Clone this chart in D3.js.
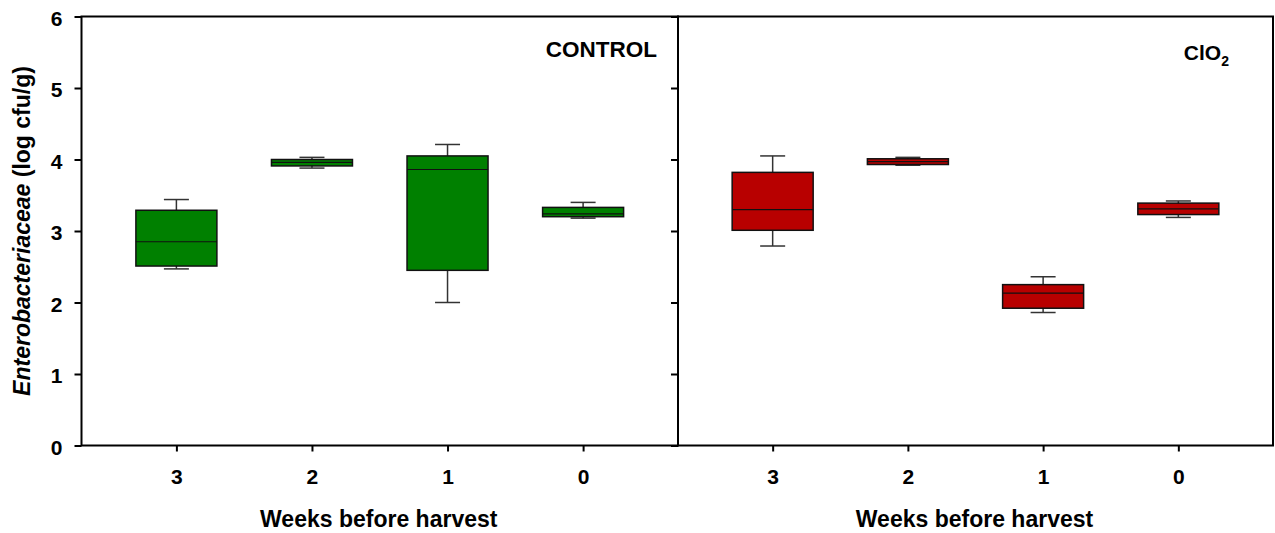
<!DOCTYPE html>
<html>
<head>
<meta charset="utf-8">
<script src="https://cdn.jsdelivr.net/npm/d3@7"></script>
<style>
  body { margin: 0; background: #fff; }
  text { font-family: Arial, "Liberation Sans", sans-serif; font-weight: bold; }
</style>
</head>
<body>
<svg id="chart" width="1275" height="533"></svg>
<script>
// weeks before harvest
var weeks = ["3", "2", "1", "0"];
var yTicks = [0, 1, 2, 3, 4, 5, 6];

// box stats: [whiskerLow, q1, median, q3, whiskerHigh]
var controlBoxes = [
  [2.47, 2.51, 2.85, 3.29, 3.44],
  [3.88, 3.91, 3.96, 4.00, 4.03],
  [2.00, 2.45, 3.86, 4.05, 4.21],
  [3.18, 3.20, 3.24, 3.33, 3.40]
];
var clo2Boxes = [
  [2.79, 3.01, 3.30, 3.82, 4.05],
  [3.92, 3.93, 3.97, 4.01, 4.03],
  [1.86, 1.92, 2.13, 2.25, 2.36],
  [3.19, 3.23, 3.31, 3.39, 3.42]
];

var svg = d3.select("#chart");
var plotTop = 16.5, plotBottom = 445.5;

var y = d3.scaleLinear().domain([0, 6]).range([plotBottom, plotTop]);

var panels = [
  {x0: 81.5, x1: 678, data: controlBoxes, fill: "#008000", label: "CONTROL", yLabels: true},
  {x0: 678, x1: 1273, data: clo2Boxes, fill: "#b80000", label: "ClO", yLabels: false}
];

panels.forEach(function(p, pi){
  var g = svg.append("g");
  var x = d3.scalePoint().domain(weeks).range([p.x0, p.x1]).padding(0.7);

  // boxes
  var boxW = 81, capW = 25;
  var bx = g.selectAll(".box").data(p.data).enter().append("g");
  bx.append("line")
    .attr("x1", function(d, i){ return x(weeks[i]); })
    .attr("x2", function(d, i){ return x(weeks[i]); })
    .attr("y1", function(d){ return y(d[0]); })
    .attr("y2", function(d){ return y(d[4]); })
    .attr("stroke", "#333").attr("stroke-width", 1.5);
  [0, 4].forEach(function(k){
    bx.append("line")
      .attr("x1", function(d, i){ return x(weeks[i]) - capW/2; })
      .attr("x2", function(d, i){ return x(weeks[i]) + capW/2; })
      .attr("y1", function(d){ return y(d[k]); })
      .attr("y2", function(d){ return y(d[k]); })
      .attr("stroke", "#333").attr("stroke-width", 1.5);
  });
  bx.append("rect")
    .attr("x", function(d, i){ return x(weeks[i]) - boxW/2; })
    .attr("y", function(d){ return y(d[3]); })
    .attr("width", boxW)
    .attr("height", function(d){ return y(d[1]) - y(d[3]); })
    .attr("fill", p.fill)
    .attr("stroke", "#111").attr("stroke-width", 1.5);
  bx.append("line")
    .attr("x1", function(d, i){ return x(weeks[i]) - boxW/2; })
    .attr("x2", function(d, i){ return x(weeks[i]) + boxW/2; })
    .attr("y1", function(d){ return y(d[2]); })
    .attr("y2", function(d){ return y(d[2]); })
    .attr("stroke", "#111").attr("stroke-width", 1.2);

  // frame
  g.append("rect")
    .attr("x", p.x0).attr("y", plotTop)
    .attr("width", p.x1 - p.x0).attr("height", plotBottom - plotTop)
    .attr("fill", "none").attr("stroke", "#000").attr("stroke-width", 2);

  // x axis
  var xa = g.append("g").attr("transform", "translate(0," + plotBottom + ")")
    .call(d3.axisBottom(x).tickSize(6).tickPadding(18));
  xa.select(".domain").remove();
  xa.selectAll("line").attr("stroke", "#000").attr("stroke-width", 2);
  xa.selectAll("text").attr("font-size", 21).attr("fill", "#000")
    .attr("font-family", "Arial, 'Liberation Sans', sans-serif");

  // y axis
  var ya = g.append("g").attr("transform", "translate(" + p.x0 + ",0)")
    .call(d3.axisLeft(y).tickValues(yTicks).tickSize(7).tickPadding(12)
      .tickFormat(p.yLabels ? d3.format("d") : function(){ return ""; }));
  ya.select(".domain").remove();
  ya.selectAll("line").attr("stroke", "#000").attr("stroke-width", 2);
  ya.selectAll("text").attr("font-size", 21).attr("fill", "#000")
    .attr("dy", "0.42em")
    .attr("font-family", "Arial, 'Liberation Sans', sans-serif");

  // x title
  g.append("text")
    .attr("x", (p.x0 + p.x1) / 2 - 1).attr("y", 527)
    .attr("text-anchor", "middle").attr("font-size", 23)
    .text("Weeks before harvest");

  // panel label
  var lab = g.append("text")
    .attr("x", pi == 0 ? 657 : 1229).attr("y", pi == 0 ? 57 : 60)
    .attr("text-anchor", "end").attr("font-size", pi == 0 ? 22.5 : 21);
  lab.append("tspan").text(p.label);
  if (pi == 1) {
    lab.append("tspan").attr("font-size", 14).attr("dy", 6).text("2");
  }
});

// y title
var yt = svg.append("text")
  .attr("transform", "translate(30," + ((plotTop + plotBottom) / 2) + ") rotate(-90)")
  .attr("text-anchor", "middle").attr("font-size", 23);
yt.append("tspan").attr("font-style", "italic").text("Enterobacteriaceae");
yt.append("tspan").text(" (log cfu/g)");
</script>
</body>
</html>
